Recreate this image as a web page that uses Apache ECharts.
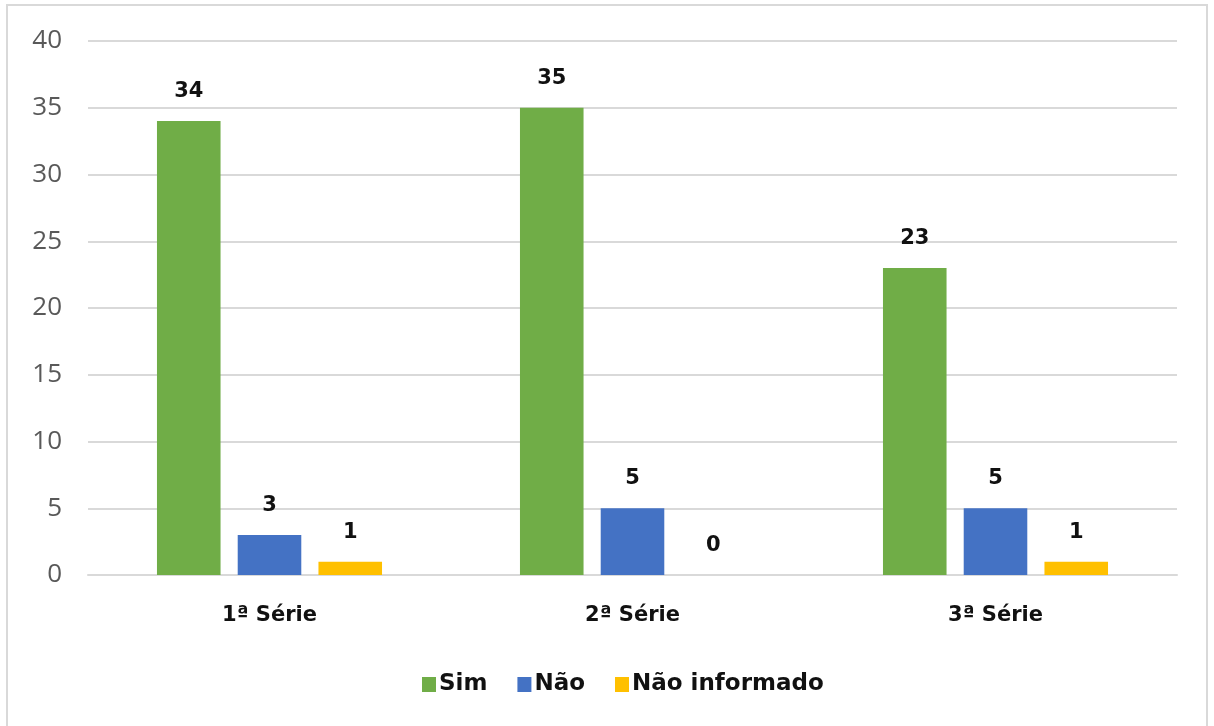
<!DOCTYPE html>
<html>
<head>
<meta charset="utf-8">
<script src="https://cdn.jsdelivr.net/npm/echarts@6/dist/echarts.min.js"></script>
<style>
  html, body { margin: 0; padding: 0; background: #ffffff; }
  #frame {
    position: absolute; left: 6px; top: 4px; width: 1202px; height: 730px;
    border: 2px solid #d9d9d9; border-bottom: none; box-sizing: border-box;
  }
  #chart { position: absolute; left: 0; top: 0; width: 1214px; height: 726px; }
</style>
</head>
<body>
<div id="frame"></div>
<div id="chart"></div>
<script>
// Turmas e respostas por categoria
const categories = ['1ª Série', '2ª Série', '3ª Série'];
const seriesNames = ['Sim', 'Não', 'Não informado'];
const simValues = [34, 35, 23];
const naoValues = [3, 5, 5];
const naoInformadoValues = [1, 0, 1];
const yTicks = { min: 0, max: 40, interval: 5 };

const colors = ['#70ad47', '#4472c4', '#ffc000'];
const boldFont = '"DejaVu Sans", "Open Sans", sans-serif';
const axisFont = '"Open Sans", "Noto Sans", sans-serif';

function barSeries(name, data, color) {
  return {
    name: name,
    type: 'bar',
    data: data,
    barGap: '27%',
    barCategoryGap: '38%',
    itemStyle: { color: color },
    label: {
      show: true,
      position: 'top',
      distance: 19,
      color: '#111111',
      fontFamily: boldFont,
      fontWeight: 'bold',
      fontSize: 21
    }
  };
}

const chart = echarts.init(document.getElementById('chart'), null, { renderer: 'canvas' });
chart.setOption({
  animation: false,
  backgroundColor: 'transparent',
  grid: { left: 88, right: 37, top: 41, bottom: 151, containLabel: false },
  legend: {
    top: 668,
    left: 417,
    itemWidth: 14,
    itemHeight: 15,
    itemGap: 30,
    icon: 'rect',
    textStyle: { fontFamily: boldFont, fontWeight: 'bold', fontSize: 23, color: '#111111', padding: [0, 0, 0, -2] },
    data: seriesNames
  },
  xAxis: {
    type: 'category',
    data: categories,
    axisLine: { lineStyle: { color: '#d9d9d9', width: 2 } },
    axisTick: { show: false },
    axisLabel: { margin: 30, fontFamily: boldFont, fontWeight: 'bold', fontSize: 21, color: '#111111' }
  },
  yAxis: {
    type: 'value',
    min: yTicks.min,
    max: yTicks.max,
    interval: yTicks.interval,
    axisLine: { show: false },
    axisTick: { show: false },
    splitLine: { lineStyle: { color: '#d9d9d9', width: 2 } },
    axisLabel: { margin: 26, fontFamily: axisFont, fontSize: 26, color: '#595959' }
  },
  series: [
    barSeries(seriesNames[0], simValues, colors[0]),
    barSeries(seriesNames[1], naoValues, colors[1]),
    barSeries(seriesNames[2], naoInformadoValues, colors[2])
  ]
});
</script>
</body>
</html>
